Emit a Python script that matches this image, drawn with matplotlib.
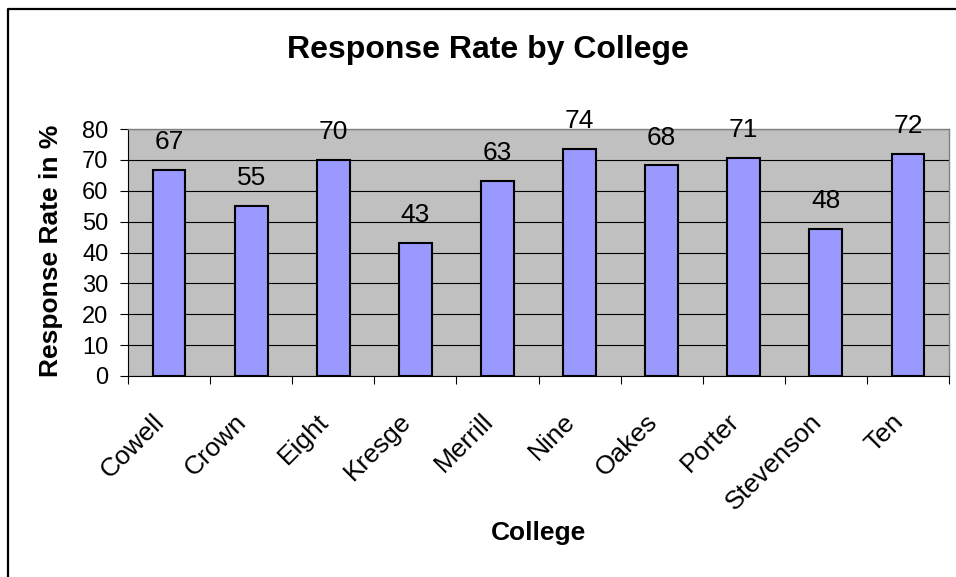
import matplotlib
matplotlib.use("Agg")
import matplotlib.pyplot as plt
from matplotlib.lines import Line2D

colleges = ["Cowell", "Crown", "Eight", "Kresge", "Merrill",
            "Nine", "Oakes", "Porter", "Stevenson", "Ten"]
rates = [66.8, 55.2, 70.0, 43.1, 63.2, 73.6, 68.2, 70.6, 47.6, 72.0]
yticks = [0, 10, 20, 30, 40, 50, 60, 70, 80]

plt.rcParams["font.family"] = ["Liberation Sans", "DejaVu Sans"]

W, H = 956, 577
fig = plt.figure(figsize=(W / 100, H / 100), dpi=100)
fig.patch.set_facecolor("white")

# plot area in pixel coords of the reference
x0, x1, y0, y1 = 128, 949, 129, 376
ax = fig.add_axes([x0 / W, 1 - y1 / H, (x1 - x0) / W, (y1 - y0) / H])
ax.set_facecolor("#c0c0c0")

pos = list(range(len(colleges)))
ax.bar(pos, rates, width=0.4, color="#9999ff", edgecolor="black",
       linewidth=1.5, zorder=3)

for p, v in zip(pos, rates):
    ax.annotate(f"{v:.0f}", xy=(p, v), xytext=(0, 20), textcoords="offset points",
                ha="center", va="center", fontsize=19, zorder=4,
                annotation_clip=False)

ax.set_xlim(-0.5, len(colleges) - 0.5)
ax.set_ylim(0, 80)
ax.set_yticks(yticks)
ax.yaxis.grid(True, color="black", linewidth=0.8, zorder=0)
ax.set_axisbelow(True)
ax.tick_params(axis="y", direction="out", length=6, width=0.8, pad=8,
               labelsize=17)

# category ticks sit on the boundaries; labels drawn separately
ax.set_xticks([p - 0.5 for p in pos] + [len(colleges) - 0.5])
ax.set_xticklabels([])
ax.tick_params(axis="x", direction="out", length=6, width=0.8)
for p, name in zip(pos, colleges):
    ax.annotate(name, xy=(p, 0), xycoords=("data", "axes fraction"),
                xytext=(-12, -24), textcoords="offset points",
                rotation=45, rotation_mode="anchor", ha="right", va="top",
                fontsize=19, annotation_clip=False)

for side in ("top", "right"):
    ax.spines[side].set_color("#808080")
    ax.spines[side].set_linewidth(1.0)
for side in ("left", "bottom"):
    ax.spines[side].set_color("black")
    ax.spines[side].set_linewidth(0.8)

fig.text(488 / W, 1 - 58 / H, "Response Rate by College", ha="center",
         va="baseline", fontsize=23, fontweight="bold")
fig.text(51 / W, 1 - 251 / H, "Response Rate in %", ha="center", va="center",
         rotation=90, fontsize=19, fontweight="bold")
fig.text(538 / W, 1 - 533 / H, "College", ha="center", va="center",
         fontsize=19, fontweight="bold")

# chart outer border (only top and left visible in the crop)
bx, by = 7.5 / W, 1 - 8.5 / H
fig.add_artist(Line2D([bx, bx, 1.0], [0.0, by, by], color="black",
                      linewidth=1.6, transform=fig.transFigure))

fig.savefig("out.png", dpi=100)
